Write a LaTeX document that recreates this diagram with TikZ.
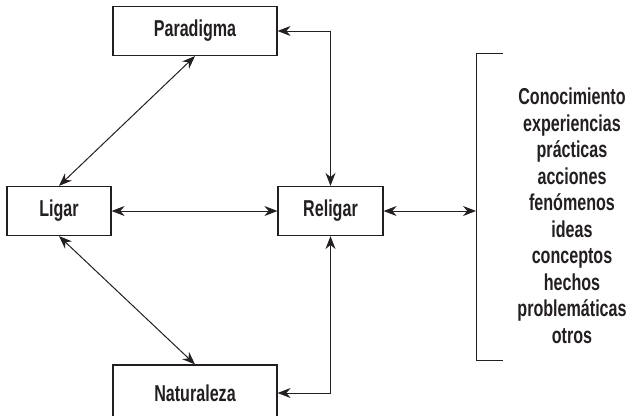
\documentclass[tikz,border=0pt]{standalone}
\usepackage{fontspec}
\setmainfont{Liberation Sans}[FakeStretch=0.7]
\usetikzlibrary{arrows.meta}
\definecolor{ink}{HTML}{231F20}

\begin{document}
\begin{tikzpicture}[x=1pt,y=-1pt,
	every node/.style={font=\fontsize{23}{26.5}\selectfont\bfseries,text=ink},
	box/.style={draw=ink,line width=1.2pt,minimum width=164pt,minimum height=49pt,inner sep=0pt},
	link/.style={draw=ink,line width=1pt,{Stealth[length=13pt,width=10pt]}-{Stealth[length=13pt,width=10pt]}}]
	\useasboundingbox (0,0) rectangle (631,415);
	\clip (0,0) rectangle (631,415);

	% boxes
	\node[box] (par) at (195,31) {Paradigma};
	\node[box,minimum width=104pt] (lig) at (59,211) {Ligar};
	\node[box,minimum width=105pt] (rel) at (330.5,211) {Religar};
	\node[box,minimum height=56pt] (nat) at (195,393) {Naturaleza};

	% bracket with list
	\coordinate (brk) at (476,211);
	\draw[ink,line width=1pt] (503,53) -- (476,53) -- (476,360) -- (503,360);
	\node[align=center] (lst) at (572,216) {Conocimiento\\experiencias\\prácticas\\acciones\\fenómenos\\ideas\\conceptos\\hechos\\problemáticas\\otros};

	% connectors
	\draw[link] (lig.north) -- (par.south);
	\draw[link] (lig.south) -- (nat.north);
	\draw[link] (lig) -- (rel);
	\draw[link] (par.east) -| (rel.north);
	\draw[link] (nat.east) -| (rel.south);
	\draw[link] (rel) -- (brk);
\end{tikzpicture}
\end{document}
